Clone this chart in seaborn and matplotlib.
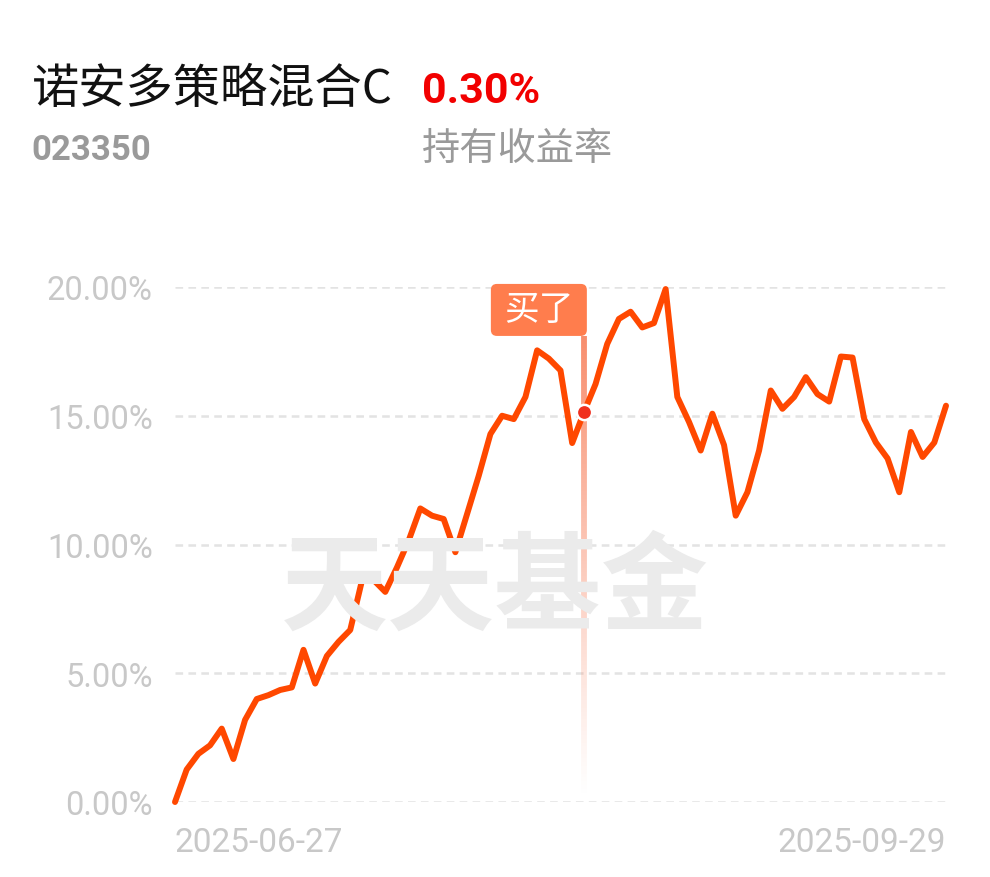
import matplotlib
matplotlib.use("Agg")
import matplotlib.pyplot as plt
import numpy as np
import pandas as pd
import seaborn as sns
from matplotlib.collections import LineCollection
from matplotlib.patches import FancyBboxPatch

# fund info
fund_name = "诺安多策略混合C"
fund_code = "023350"
hold_return = "0.30%"
hold_label = "持有收益率"
buy_label = "买了"
watermark = "天天基金"

# trading days 2025-06-27 .. 2025-09-29
dates = pd.bdate_range("2025-06-27", "2025-09-29")
returns = [0.0, 1.26, 1.87, 2.2, 2.85, 1.67, 3.19, 4.0, 4.15, 4.35,
           4.45, 5.91, 4.6, 5.67, 6.22, 6.68, 8.59, 8.62, 8.16, 9.11,
           10.15, 11.4, 11.12, 10.99, 9.7, 11.18, 12.67, 14.29, 15.0, 14.87,
           15.73, 17.54, 17.22, 16.76, 13.94, 15.13, 16.23, 17.79, 18.76, 19.04,
           18.43, 18.6, 19.92, 15.73, 14.76, 13.65, 15.08, 13.86, 11.12, 12.03,
           13.65, 15.98, 15.27, 15.73, 16.5, 15.84, 15.55, 17.3, 17.26, 14.87,
           13.96, 13.34, 12.03, 14.37, 13.4, 13.96, 15.39]
buy_index = 35
y_ticks = [0, 5, 10, 15, 20]

df = pd.DataFrame({"idx": np.arange(len(returns)), "ret": returns})

sns.set_theme(style="white")
plt.rcParams["font.family"] = ["Roboto", "Noto Sans CJK SC", "DejaVu Sans"]
plt.rcParams["lines.scale_dashes"] = False

W, H = 990, 878
fig = plt.figure(figsize=(W / 100, H / 100), dpi=100)
fig.patch.set_facecolor("white")
ax = fig.add_axes([175 / W, 75 / H, 771 / W, 515 / H])
ax.set_facecolor("none")

# watermark behind everything
fig.text(495 / W, 1 - 590 / H, watermark, fontsize=77, fontweight="bold",
         family=["Noto Sans CJK SC"], color="#ebebeb", ha="center", va="center",
         zorder=0)

# gradient vertical line at the buy point
top_y = 18.1
seg_y = np.linspace(top_y, 0.2, 120)
segs = [[(buy_index, seg_y[i]), (buy_index, seg_y[i + 1])] for i in range(len(seg_y) - 1)]
alphas = np.linspace(0.9, 0.0, len(segs)) ** 1.1
cols = [(0.97, 0.50, 0.36, a) for a in alphas]
lc = LineCollection(segs, colors=cols, linewidths=4.2, zorder=2, clip_on=False)
ax.add_collection(lc)

sns.lineplot(data=df, x="idx", y="ret", ax=ax, color="#ff4800", linewidth=4.3,
             zorder=3, clip_on=False, solid_joinstyle="round", solid_capstyle="round")

ax.plot([buy_index], [returns[buy_index]], "o", color="#f0301e", markersize=11,
        markeredgecolor="white", markeredgewidth=1.8, zorder=4, clip_on=False)

ax.set_xlim(0, len(returns) - 1)
ax.set_ylim(0, 20)
ax.set_yticks(y_ticks)
ax.set_yticklabels([f"{v:.2f}%" for v in y_ticks])
ax.set_xticks([0, len(returns) - 1])
ax.set_xticklabels([dates[0].strftime("%Y-%m-%d"), dates[-1].strftime("%Y-%m-%d")])
xl = ax.get_xticklabels()
xl[0].set_ha("left")
xl[1].set_ha("right")
ax.tick_params(axis="y", length=0, pad=16, labelsize=23.5, labelcolor="#c8c8c8")
ax.tick_params(axis="x", length=0, pad=17, labelsize=24, labelcolor="#c8c8c8")
ax.set_xlabel("")
ax.set_ylabel("")
for s in ax.spines.values():
    s.set_visible(False)
ax.yaxis.grid(True, color="#e3e3e3", linewidth=1.8, linestyle=(0, (5.5, 3.8)))
ax.xaxis.grid(False)
ax.set_axisbelow(True)

# "买了" tag above the vertical line
fig.canvas.draw()
px, py = ax.transData.transform((buy_index, top_y))
bw, bh = 96, 52
box = FancyBboxPatch((px + 3 - bw, py), bw, bh, boxstyle="round,pad=0,rounding_size=6",
                     transform=None, facecolor="#ff7d4d", edgecolor="none", zorder=5)
fig.patches.append(box)
fig.text((px + 3 - bw / 2) / W, (py + bh / 2) / H, buy_label, fontsize=25,
         family=["Noto Sans CJK SC"], color="white", ha="center", va="center", zorder=6)

# header
fig.text(32 / W, 1 - 103 / H, fund_name, fontsize=34, family=["Noto Sans CJK SC"],
         color="#111111", ha="left", va="baseline")
fig.text(422 / W, 1 - 103 / H, hold_return, fontsize=31, fontweight="bold",
         family=["Roboto"], color="#f20000", ha="left", va="baseline")
fig.text(31 / W, 1 - 160 / H, fund_code, fontsize=25, fontweight="bold",
         family=["Roboto"], color="#9a9a9a", ha="left", va="baseline")
fig.text(422 / W, 1 - 160 / H, hold_label, fontsize=27.5, family=["Noto Sans CJK SC"],
         color="#9a9a9a", ha="left", va="baseline")

fig.savefig("out.png", dpi=100, facecolor="white")
